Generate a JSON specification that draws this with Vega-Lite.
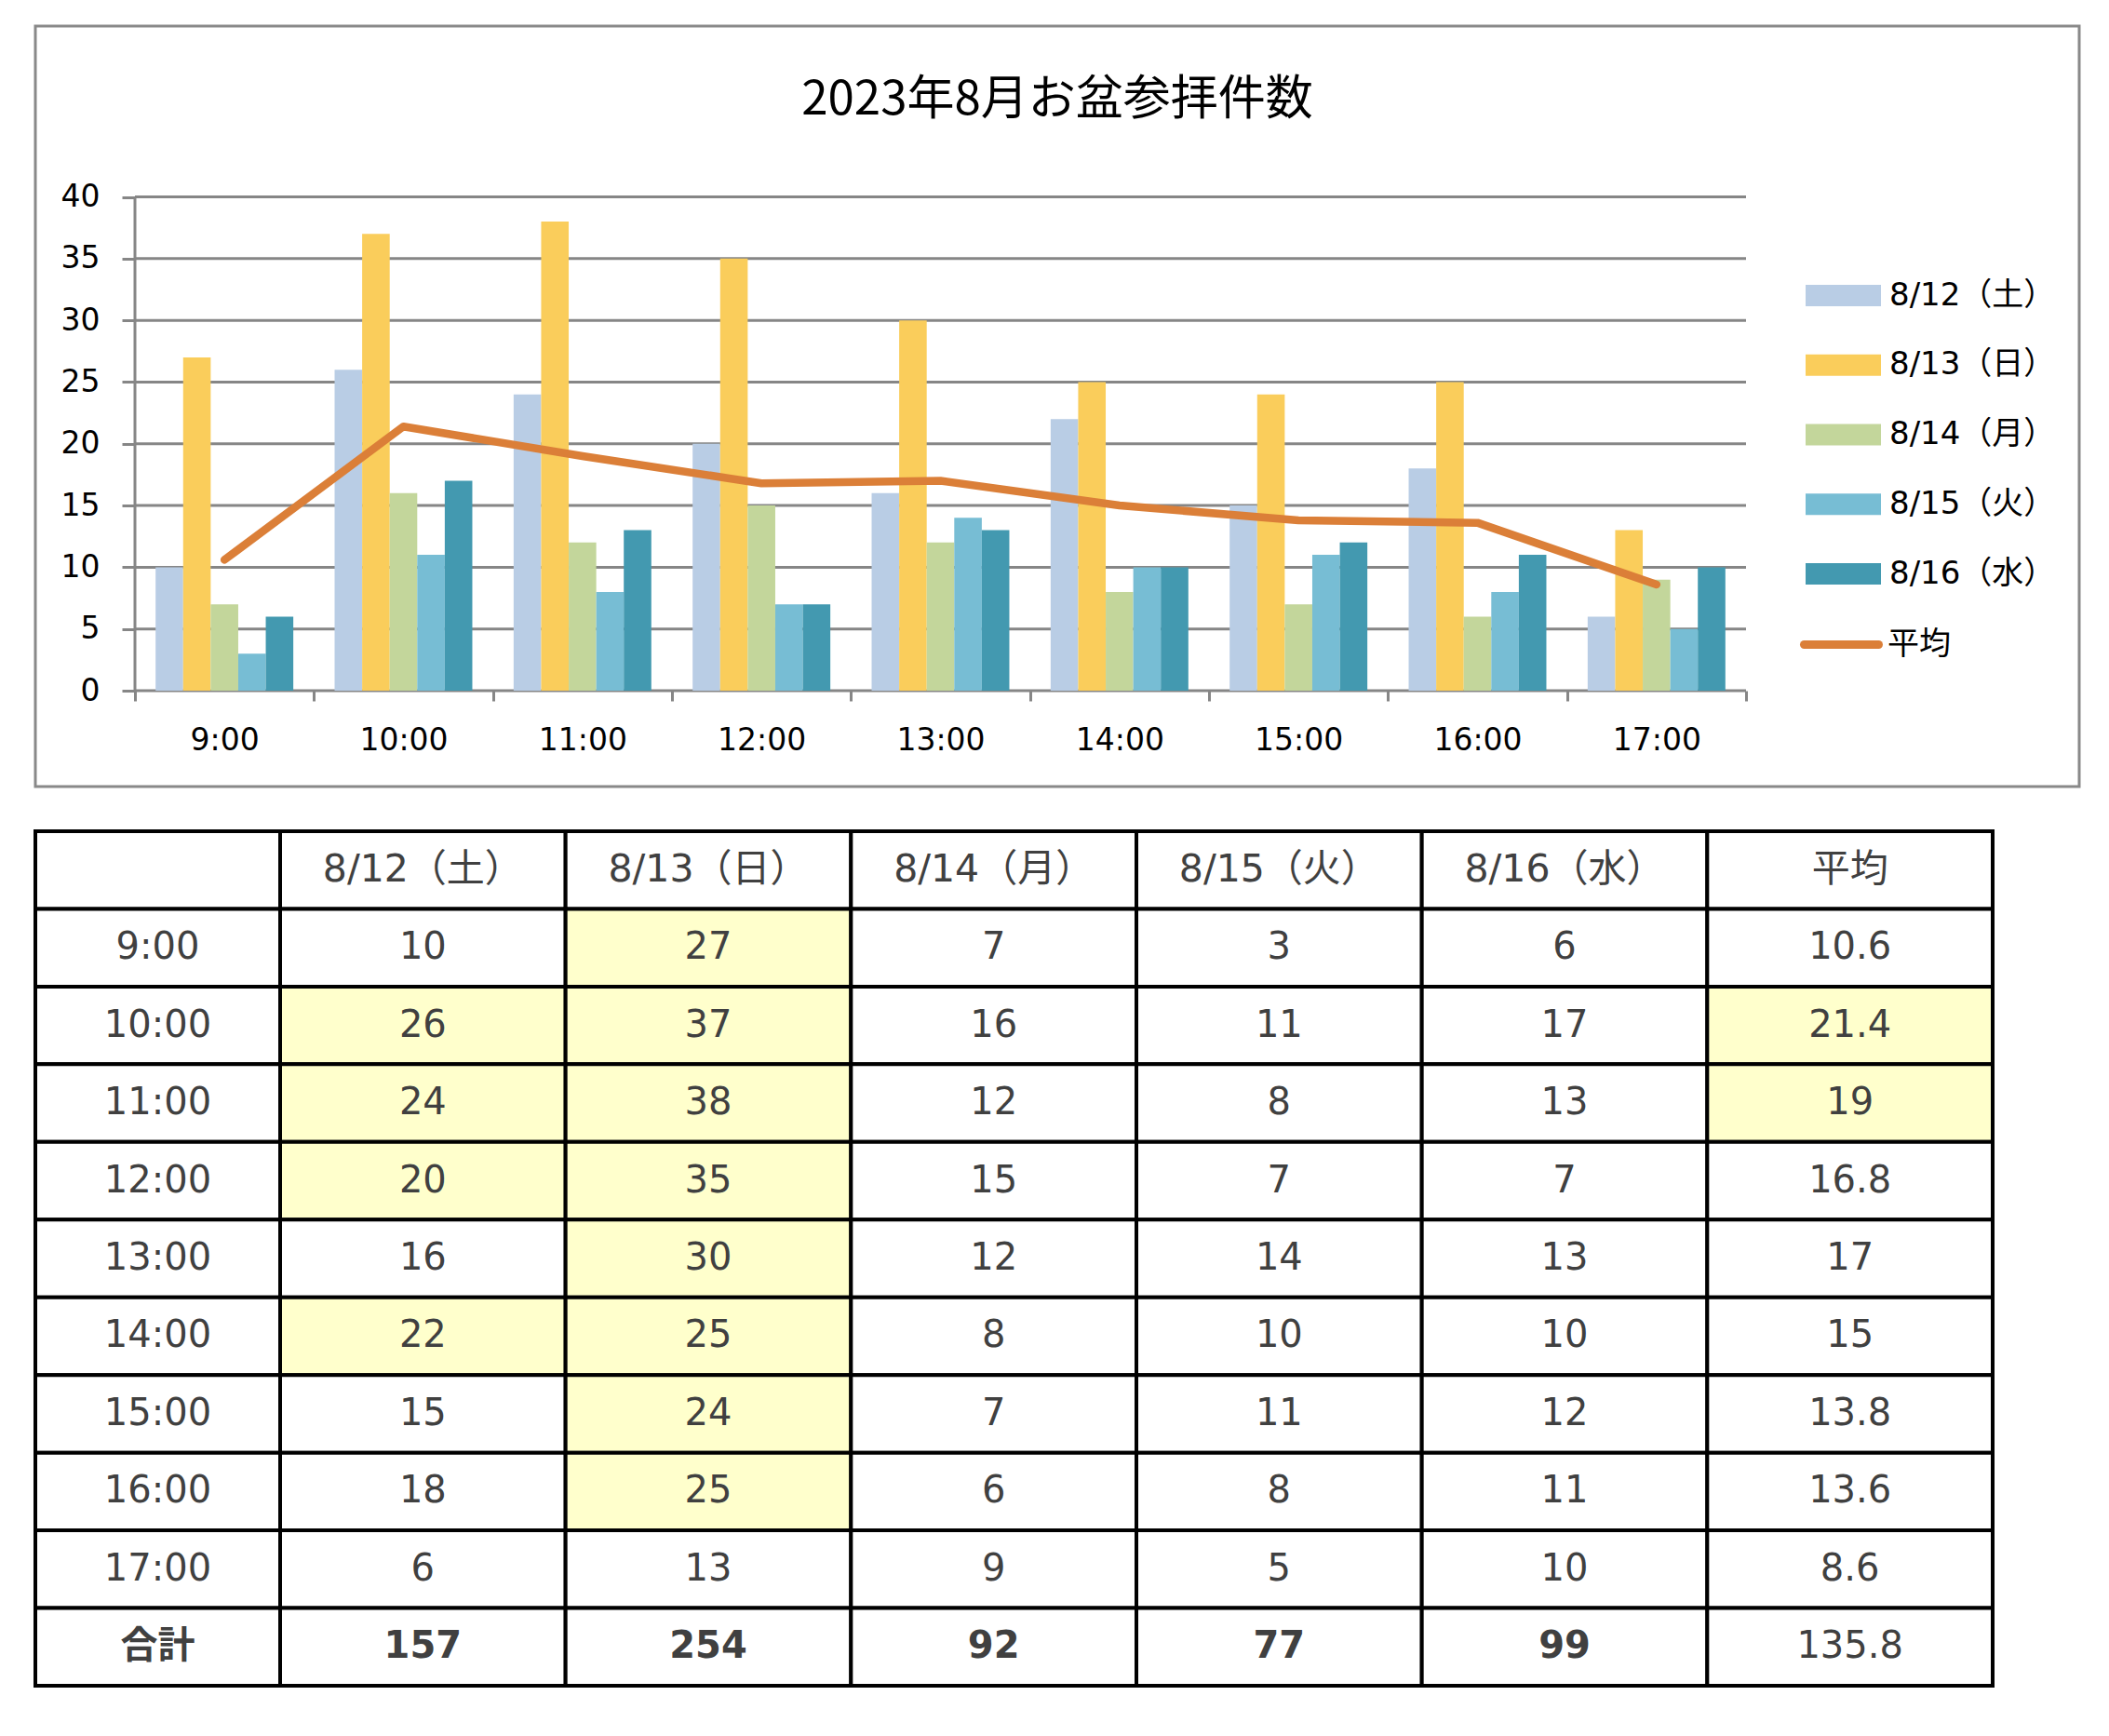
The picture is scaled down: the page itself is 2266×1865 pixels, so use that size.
{
  "$schema": "https://vega.github.io/schema/vega-lite/v6.json",
  "padding": {"left": 36, "top": 26, "right": 10, "bottom": 10},
  "background": "#ffffff",
  "spacing": 48,
  "bounds": "flush",
  "config": {"view": {"stroke": null}, "font": "DejaVu Sans, Noto Sans CJK JP"},
  "datasets": {
    "cells": [
      {"hour": "9:00", "date": "8/12（土）", "v": 10}, {"hour": "10:00", "date": "8/12（土）", "v": 26}, {"hour": "11:00", "date": "8/12（土）", "v": 24},
      {"hour": "12:00", "date": "8/12（土）", "v": 20}, {"hour": "13:00", "date": "8/12（土）", "v": 16}, {"hour": "14:00", "date": "8/12（土）", "v": 22},
      {"hour": "15:00", "date": "8/12（土）", "v": 15}, {"hour": "16:00", "date": "8/12（土）", "v": 18}, {"hour": "17:00", "date": "8/12（土）", "v": 6},
      {"hour": "合計", "date": "8/12（土）", "v": 157},
      {"hour": "9:00", "date": "8/13（日）", "v": 27}, {"hour": "10:00", "date": "8/13（日）", "v": 37}, {"hour": "11:00", "date": "8/13（日）", "v": 38},
      {"hour": "12:00", "date": "8/13（日）", "v": 35}, {"hour": "13:00", "date": "8/13（日）", "v": 30}, {"hour": "14:00", "date": "8/13（日）", "v": 25},
      {"hour": "15:00", "date": "8/13（日）", "v": 24}, {"hour": "16:00", "date": "8/13（日）", "v": 25}, {"hour": "17:00", "date": "8/13（日）", "v": 13},
      {"hour": "合計", "date": "8/13（日）", "v": 254},
      {"hour": "9:00", "date": "8/14（月）", "v": 7}, {"hour": "10:00", "date": "8/14（月）", "v": 16}, {"hour": "11:00", "date": "8/14（月）", "v": 12},
      {"hour": "12:00", "date": "8/14（月）", "v": 15}, {"hour": "13:00", "date": "8/14（月）", "v": 12}, {"hour": "14:00", "date": "8/14（月）", "v": 8},
      {"hour": "15:00", "date": "8/14（月）", "v": 7}, {"hour": "16:00", "date": "8/14（月）", "v": 6}, {"hour": "17:00", "date": "8/14（月）", "v": 9},
      {"hour": "合計", "date": "8/14（月）", "v": 92},
      {"hour": "9:00", "date": "8/15（火）", "v": 3}, {"hour": "10:00", "date": "8/15（火）", "v": 11}, {"hour": "11:00", "date": "8/15（火）", "v": 8},
      {"hour": "12:00", "date": "8/15（火）", "v": 7}, {"hour": "13:00", "date": "8/15（火）", "v": 14}, {"hour": "14:00", "date": "8/15（火）", "v": 10},
      {"hour": "15:00", "date": "8/15（火）", "v": 11}, {"hour": "16:00", "date": "8/15（火）", "v": 8}, {"hour": "17:00", "date": "8/15（火）", "v": 5},
      {"hour": "合計", "date": "8/15（火）", "v": 77},
      {"hour": "9:00", "date": "8/16（水）", "v": 6}, {"hour": "10:00", "date": "8/16（水）", "v": 17}, {"hour": "11:00", "date": "8/16（水）", "v": 13},
      {"hour": "12:00", "date": "8/16（水）", "v": 7}, {"hour": "13:00", "date": "8/16（水）", "v": 13}, {"hour": "14:00", "date": "8/16（水）", "v": 10},
      {"hour": "15:00", "date": "8/16（水）", "v": 12}, {"hour": "16:00", "date": "8/16（水）", "v": 11}, {"hour": "17:00", "date": "8/16（水）", "v": 10},
      {"hour": "合計", "date": "8/16（水）", "v": 99},
      {"hour": "9:00", "date": "平均", "v": 10.6}, {"hour": "10:00", "date": "平均", "v": 21.4}, {"hour": "11:00", "date": "平均", "v": 19},
      {"hour": "12:00", "date": "平均", "v": 16.8}, {"hour": "13:00", "date": "平均", "v": 17}, {"hour": "14:00", "date": "平均", "v": 15},
      {"hour": "15:00", "date": "平均", "v": 13.8}, {"hour": "16:00", "date": "平均", "v": 13.6}, {"hour": "17:00", "date": "平均", "v": 8.6},
      {"hour": "合計", "date": "平均", "v": 135.8}
    ],
    "grid": [{"g": 0}, {"g": 5}, {"g": 10}, {"g": 15}, {"g": 20}, {"g": 25}, {"g": 30}, {"g": 35}, {"g": 40}],
    "rowlabels": [{"hour": ""}, {"hour": "9:00"}, {"hour": "10:00"}, {"hour": "11:00"}, {"hour": "12:00"}, {"hour": "13:00"}, {"hour": "14:00"}, {"hour": "15:00"}, {"hour": "16:00"}, {"hour": "17:00"}, {"hour": "合計"}],
    "headers": [{"hour": "", "date": "8/12（土）"}, {"hour": "", "date": "8/13（日）"}, {"hour": "", "date": "8/14（月）"}, {"hour": "", "date": "8/15（火）"}, {"hour": "", "date": "8/16（水）"}, {"hour": "", "date": "平均"}]
  },
  "vconcat": [
    {
      "width": 2196,
      "height": 817,
      "view": {"stroke": "#898989", "strokeWidth": 3},
      "title": {"text": "2023年8月お盆参拝件数", "font": "Noto Sans CJK JP", "fontSize": 51, "fontWeight": "normal", "color": "#000000", "anchor": "middle", "frame": "group", "orient": "top", "baseline": "middle", "offset": -131},
      "layer": [
        {
          "data": {"name": "grid"},
          "mark": {"type": "rule", "color": "#868686", "strokeWidth": 3},
          "encoding": {
            "y": {"field": "g", "type": "quantitative"},
            "x": {"datum": "9:00", "type": "nominal", "bandPosition": 0},
            "x2": {"datum": "17:00", "bandPosition": 1}
          }
        },
        {
          "data": {"name": "cells"},
          "transform": [{"filter": "datum.hour !== '合計' && datum.date !== '平均'"}],
          "mark": {"type": "bar"},
          "encoding": {
            "x": {
              "field": "hour", "type": "nominal",
              "scale": {"domain": ["9:00", "10:00", "11:00", "12:00", "13:00", "14:00", "15:00", "16:00", "17:00"], "range": [107, 1838], "paddingInner": 0, "paddingOuter": 0},
              "axis": {"orient": "bottom", "offset": -103, "domain": false, "grid": false, "ticks": true, "tickBand": "extent", "tickSize": 11, "tickWidth": 3, "tickColor": "#868686", "labelFontSize": 33, "labelFont": "DejaVu Sans", "labelColor": "#000000", "labelPadding": 42, "labelBaseline": "middle", "labelAlign": "center", "labelAngle": 0, "title": null}
            },
            "xOffset": {"field": "date", "type": "nominal", "scale": {"domain": ["8/12（土）", "8/13（日）", "8/14（月）", "8/15（火）", "8/16（水）"], "paddingInner": 0, "paddingOuter": 0.75}},
            "y": {
              "field": "v", "type": "quantitative",
              "scale": {"domain": [-7.766, 53.836], "nice": false, "zero": false},
              "axis": {"orient": "left", "offset": -107, "values": [0, 5, 10, 15, 20, 25, 30, 35, 40], "domain": false, "grid": false, "tickSize": 14, "tickWidth": 3, "tickColor": "#868686", "labelFontSize": 33, "labelFont": "DejaVu Sans", "labelColor": "#000000", "labelPadding": 24, "labelOverlap": false, "title": null}
            },
            "fill": {
              "field": "date", "type": "nominal",
              "scale": {"domain": ["8/12（土）", "8/13（日）", "8/14（月）", "8/15（火）", "8/16（水）"], "range": ["#B9CDE5", "#FACD5B", "#C3D69B", "#77BDD4", "#4399B0"]},
              "legend": {"orient": "none", "legendX": 1905, "legendY": 252, "direction": "vertical", "title": null, "symbolType": "M-1.08,-0.307H1.08V0.307H-1.08Z", "symbolSize": 5625, "symbolStrokeWidth": 0, "labelFont": "DejaVu Sans, Noto Sans CJK JP", "labelFontSize": 34, "labelColor": "#000000", "labelOffset": 12, "rowPadding": 19.75, "padding": 0, "labelLimit": 500}
            }
          }
        },
        {
          "data": {"values": [{}]},
          "mark": {"type": "rule", "color": "#868686", "strokeWidth": 3},
          "encoding": {
            "x": {"datum": "9:00", "type": "nominal", "bandPosition": 0},
            "y": {"datum": 40, "type": "quantitative"},
            "y2": {"datum": 0}
          }
        },
        {
          "data": {"name": "cells"},
          "transform": [{"filter": "datum.hour !== '合計' && datum.date === '平均'"}],
          "mark": {"type": "line", "strokeWidth": 8.5, "strokeCap": "round", "strokeJoin": "round"},
          "encoding": {
            "x": {"field": "hour", "type": "nominal"},
            "y": {"field": "v", "type": "quantitative"},
            "stroke": {
              "field": "date", "type": "nominal",
              "scale": {"domain": ["平均"], "range": ["#DB7F38"]},
              "legend": {"orient": "none", "legendX": 1896, "legendY": 620, "direction": "vertical", "title": null, "symbolType": "stroke", "symbolSize": 6400, "symbolStrokeWidth": 9, "labelFont": "DejaVu Sans, Noto Sans CJK JP", "labelFontSize": 34, "labelColor": "#000000", "labelOffset": 5, "padding": 0, "encode": {"symbols": {"update": {"strokeCap": {"value": "round"}}}}}
            }
          }
        }
      ]
    },
    {
      "hconcat": [
        {
          "width": 263,
          "height": 918,
          "data": {"name": "rowlabels"},
          "encoding": {"y": {"field": "hour", "type": "nominal", "scale": {"domain": ["", "9:00", "10:00", "11:00", "12:00", "13:00", "14:00", "15:00", "16:00", "17:00", "合計"], "paddingInner": 0, "paddingOuter": 0}, "axis": null}},
          "layer": [
            {"mark": {"type": "rect", "fill": "#ffffff", "stroke": "#000000", "strokeWidth": 4}},
            {"transform": [{"filter": "datum.hour !== '合計'"}], "mark": {"type": "text", "font": "DejaVu Sans, Noto Sans CJK JP", "fontSize": 40, "color": "#404040", "baseline": "middle"}, "encoding": {"text": {"field": "hour", "type": "nominal"}}},
            {"transform": [{"filter": "datum.hour === '合計'"}], "mark": {"type": "text", "font": "DejaVu Sans, Noto Sans CJK JP", "fontSize": 40, "fontWeight": "bold", "color": "#404040", "baseline": "middle"}, "encoding": {"text": {"field": "hour", "type": "nominal"}}}
          ]
        },
        {
          "width": 1840,
          "height": 918,
          "encoding": {
            "x": {"field": "date", "type": "nominal", "scale": {"domain": ["8/12（土）", "8/13（日）", "8/14（月）", "8/15（火）", "8/16（水）", "平均"], "paddingInner": 0, "paddingOuter": 0}, "axis": null},
            "y": {"field": "hour", "type": "nominal", "scale": {"domain": ["", "9:00", "10:00", "11:00", "12:00", "13:00", "14:00", "15:00", "16:00", "17:00", "合計"], "paddingInner": 0, "paddingOuter": 0}, "axis": null}
          },
          "layer": [
            {"data": {"name": "headers"}, "mark": {"type": "rect", "fill": "#ffffff", "stroke": "#000000", "strokeWidth": 4}},
            {"data": {"name": "cells"}, "mark": {"type": "rect", "stroke": "#000000", "strokeWidth": 4},
             "encoding": {"fill": {"condition": {"test": "datum.hour !== '合計' && (datum.date === '平均' ? datum.v >= 19 : datum.v >= 20)", "value": "#FFFFCC"}, "value": "#FFFFFF"}}},
            {"data": {"name": "headers"}, "mark": {"type": "text", "font": "DejaVu Sans, Noto Sans CJK JP", "fontSize": 41, "color": "#404040", "baseline": "middle"}, "encoding": {"text": {"field": "date", "type": "nominal"}}},
            {"data": {"name": "cells"}, "transform": [{"filter": "!(datum.hour === '合計' && datum.date !== '平均')"}], "mark": {"type": "text", "font": "DejaVu Sans, Noto Sans CJK JP", "fontSize": 40, "color": "#404040", "baseline": "middle"}, "encoding": {"text": {"field": "v", "type": "nominal"}}},
            {"data": {"name": "cells"}, "transform": [{"filter": "datum.hour === '合計' && datum.date !== '平均'"}], "mark": {"type": "text", "font": "DejaVu Sans, Noto Sans CJK JP", "fontSize": 40, "fontWeight": "bold", "color": "#404040", "baseline": "middle"}, "encoding": {"text": {"field": "v", "type": "nominal"}}}
          ]
        }
      ],
      "spacing": 0,
      "bounds": "flush"
    }
  ]
}
